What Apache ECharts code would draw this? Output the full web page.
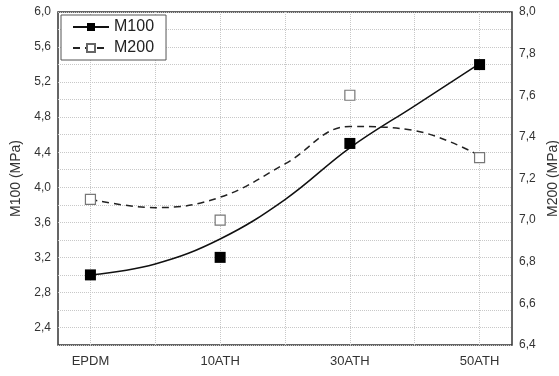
<!DOCTYPE html>
<html>
<head>
<meta charset="utf-8">
<script src="https://cdn.jsdelivr.net/npm/echarts@6/dist/echarts.min.js"></script>
<style>
html,body{margin:0;padding:0;background:#fff;}
#c{width:559px;height:376px;}
</style>
</head>
<body>
<div id="c"></div>
<script>
// x positions (half-steps between samples, labels only on the samples)
var categories = ['EPDM', '', '10ATH', '', '30ATH', '', '50ATH'];
// measured points
var m100Points = [3.0, null, 3.2, null, 4.5, null, 5.4];
var m200Points = [7.1, null, 7.0, null, 7.6, null, 7.3];
// fitted trend curves
var m100Fit = [3.0, 3.125, 3.41, 3.86, 4.45, 4.93, 5.41];
var m200Fit = [7.10, 7.06, 7.11, 7.27, 7.45, 7.43, 7.31];

var fmt = function (v) { return v.toFixed(1).replace('.', ','); };
var font = 'Liberation Sans, Arial, sans-serif';

var chart = echarts.init(document.getElementById('c'), null, {renderer: 'canvas'});
chart.setOption({
  animation: false,
  backgroundColor: '#fff',
  grid: {left: 58, right: 47, top: 12, bottom: 31, outerBoundsMode: 'none', containLabel: false,
         show: true, borderColor: '#333', borderWidth: 1.5, backgroundColor: 'transparent'},
  legend: {
    data: ['M100', 'M200'],
    orient: 'vertical',
    left: 61, top: 15,
    backgroundColor: '#fff',
    borderColor: '#555', borderWidth: 1,
    padding: [4, 12, 4, 11],
    itemGap: 5,
    itemWidth: 36, itemHeight: 10,
    textStyle: {fontFamily: font, fontSize: 16, color: '#222'}
  },
  xAxis: {
    type: 'category',
    data: categories,
    boundaryGap: true,
    axisLine: {show: false},
    axisTick: {show: false, alignWithLabel: true},
    axisLabel: {interval: 0, margin: 10, fontFamily: font, fontSize: 13, color: '#333'},
    splitLine: {show: true, alignWithLabel: true, interval: 0, lineStyle: {color: '#c8c8c8', type: 'dotted', width: 1}}
  },
  yAxis: [
    {
      type: 'value', min: 2.2, max: 6.0, interval: 0.2, position: 'left',
      name: 'M100 (MPa)', nameLocation: 'middle', nameGap: 35, nameRotate: 90,
      nameTextStyle: {fontFamily: font, fontSize: 14, color: '#333'},
      axisLine: {show: false}, axisTick: {show: false},
      axisLabel: {
        margin: 7, fontFamily: font, fontSize: 12, color: '#333',
        formatter: function (v) { return Math.round(v * 10) % 4 === 0 ? fmt(v) : ''; }
      },
      splitLine: {show: true, lineStyle: {color: '#c8c8c8', type: 'dotted', width: 1}}
    },
    {
      type: 'value', min: 6.4, max: 8.0, interval: 0.2, position: 'right',
      name: 'M200 (MPa)', nameLocation: 'middle', nameGap: 30, nameRotate: 90,
      nameTextStyle: {fontFamily: font, fontSize: 14, color: '#333'},
      axisLine: {show: false}, axisTick: {show: false},
      axisLabel: {margin: 7, fontFamily: font, fontSize: 12, color: '#333', formatter: fmt},
      splitLine: {show: false}
    }
  ],
  series: [
    {
      name: 'M100', type: 'line', yAxisIndex: 0, data: m100Fit, smooth: 0.4,
      symbol: 'rect', symbolSize: 10, showSymbol: false,
      itemStyle: {color: '#000'},
      lineStyle: {color: '#111', width: 1.5, type: 'solid'},
      z: 2
    },
    {
      name: 'M200', type: 'line', yAxisIndex: 1, data: m200Fit, smooth: 0.4,
      symbol: 'rect', symbolSize: 10, showSymbol: false,
      itemStyle: {color: '#fff', borderColor: '#666', borderWidth: 1.2},
      lineStyle: {color: '#222', width: 1.5, type: [7, 5]},
      z: 2
    },
    {
      name: 'M100 points', type: 'scatter', yAxisIndex: 0, data: m100Points,
      symbol: 'rect', symbolSize: 11, itemStyle: {color: '#000', opacity: 1}, z: 3
    },
    {
      name: 'M200 points', type: 'scatter', yAxisIndex: 1, data: m200Points,
      symbol: 'rect', symbolSize: 10, itemStyle: {color: '#fff', borderColor: '#777', borderWidth: 1.2, opacity: 1}, z: 3
    }
  ]
});
</script>
</body>
</html>
